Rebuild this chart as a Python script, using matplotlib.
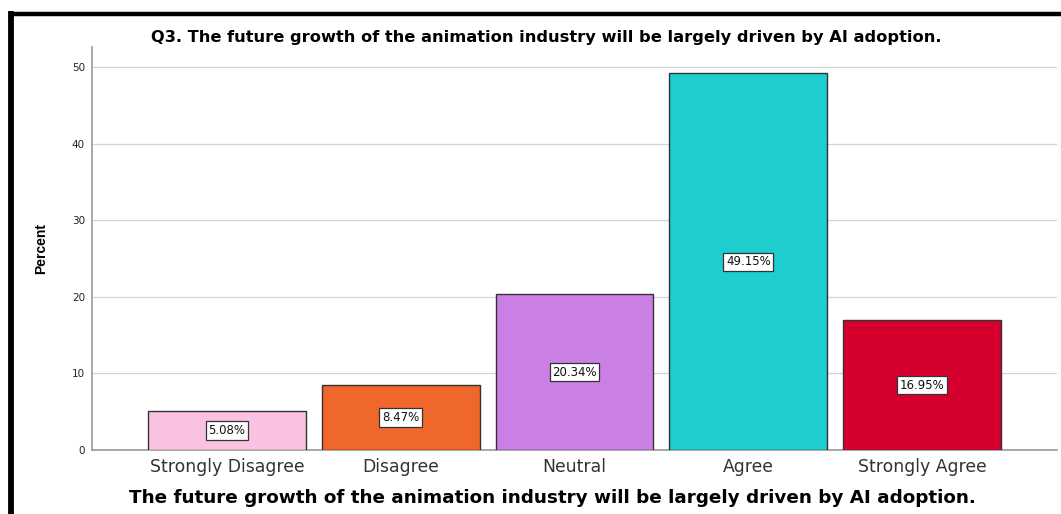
import matplotlib
matplotlib.use("Agg")
import matplotlib.pyplot as plt
from matplotlib.lines import Line2D

plt.rcParams['font.family'] = ['DejaVu Sans']

categories = ["Strongly Disagree", "Disagree", "Neutral", "Agree", "Strongly Agree"]
percents = [5.08, 8.47, 20.34, 49.15, 16.95]
bar_colors = ["#FBC1E1", "#F0672B", "#C97FE3", "#1ECDCD", "#D6002F"]
yticks = [0, 10, 20, 30, 40, 50]

title = "Q3. The future growth of the animation industry will be largely driven by AI adoption."
xlabel = "The future growth of the animation industry will be largely driven by AI adoption."

fig = plt.figure(figsize=(10.61, 5.14), dpi=100)
ax = fig.add_axes([0.0867, 0.1245, 0.9095, 0.7841])

xs = list(range(len(categories)))
bars = ax.bar(xs, percents, width=0.908, color=bar_colors, edgecolor="#333333",
              linewidth=1.0, zorder=3)

for x, v in zip(xs, percents):
    ax.text(x, v / 2, f"{v:.2f}%", ha="center", va="center", fontsize=8.5, zorder=4,
            color="#111111",
            bbox=dict(boxstyle="square,pad=0.22", fc="white", ec="#333333", lw=0.9))

ax.set_xlim(-0.776, 4.776)
ax.set_ylim(0, 52.6)
ax.set_yticks(yticks)
ax.set_xticks(xs)
ax.set_xticklabels(categories, fontsize=12.4, color="#333333")
ax.tick_params(axis="y", length=0, labelsize=7.5, pad=5, colors="#222222")
ax.tick_params(axis="x", length=0, pad=6)
ax.grid(axis="y", color="#d4d4d4", lw=0.9, zorder=0)
for s in ("top", "right"):
    ax.spines[s].set_visible(False)
for s in ("left", "bottom"):
    ax.spines[s].set_color("#999999")
    ax.spines[s].set_linewidth(1.2)

ax.set_ylabel("Percent", fontsize=10, fontweight="bold", family="Liberation Sans")
ax.yaxis.set_label_coords(-0.0456, 0.5)

fig.text(0.515, 0.928, title, ha="center", va="center", fontsize=11.7, fontweight="bold")
fig.text(0.521, 0.031, xlabel, ha="center", va="center", fontsize=13.2, fontweight="bold")

# thick frame along the left and top edges
fig.add_artist(Line2D([0.0099, 0.0099], [0, 0.973], color="black", lw=4.2,
                      transform=fig.transFigure, solid_capstyle="projecting"))
fig.add_artist(Line2D([0.0099, 1.0], [0.973, 0.973], color="black", lw=3.2,
                      transform=fig.transFigure, solid_capstyle="projecting"))

fig.savefig("out.png", dpi=100)
